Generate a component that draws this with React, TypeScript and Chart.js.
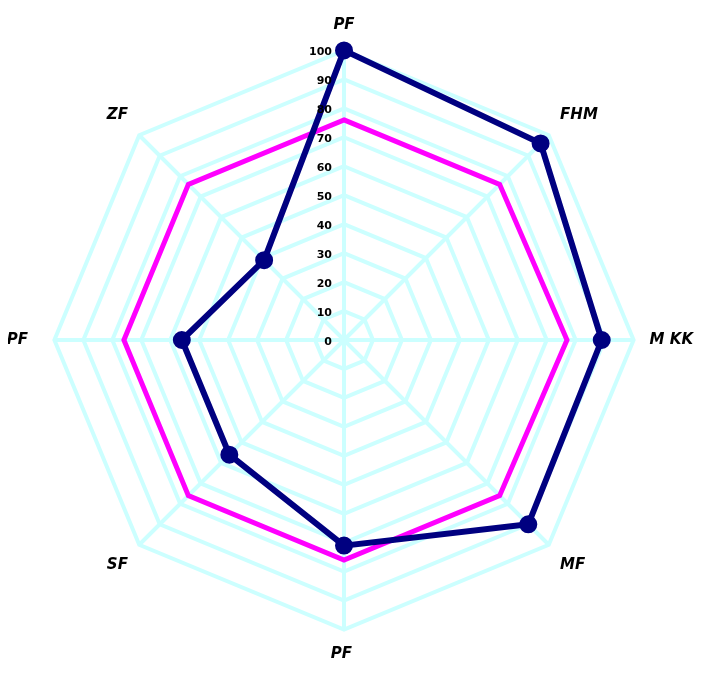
import React, { useEffect, useRef } from "react";
import { Chart, registerables } from "chart.js";

Chart.register(...registerables);

const categories = ["PF", "FHM", "M KK", "MF", "PF ", "SF", "PF  ", "ZF"];
const seriesA = [100, 96, 89, 90, 71, 56, 56, 39];
const seriesB = [76, 76, 77, 76, 76, 76, 76, 76];
const tickValues = [0, 10, 20, 30, 40, 50, 60, 70, 80, 90, 100];

const tickPlugin = {
  id: "leftTicks",
  afterDatasetsDraw(chart: any) {
    const scale = chart.scales.r;
    const ctx = chart.ctx;
    ctx.save();
    ctx.font = "bold 11px 'DejaVu Sans'";
    ctx.fillStyle = "#000";
    ctx.textAlign = "right";
    ctx.textBaseline = "middle";
    tickValues.forEach((v) => {
      const d = scale.getDistanceFromCenterForValue(v);
      ctx.fillText(String(v), scale.xCenter - 12, scale.yCenter - d + 2);
    });
    ctx.restore();
  },
};

export default function App() {
  const ref = useRef<HTMLCanvasElement>(null);
  useEffect(() => {
    if (!ref.current) return;
    const chart = new Chart(ref.current, {
      type: "radar",
      data: {
        labels: categories,
        datasets: [
          {
            data: seriesA,
            borderColor: "#000080",
            backgroundColor: "#000080",
            borderWidth: 6,
            pointRadius: 6,
            pointBackgroundColor: "#000080",
            pointBorderColor: "#000080",
            fill: false,
          },
          {
            data: seriesB,
            borderColor: "#ff00ff",
            backgroundColor: "#ff00ff",
            borderWidth: 5,
            pointRadius: 0,
            fill: false,
          },
        ],
      },
      options: {
        animation: false,
        responsive: true,
        maintainAspectRatio: false,
        plugins: { legend: { display: false }, tooltip: { enabled: false } },
        scales: {
          r: {
            min: 0,
            max: 100,
            ticks: { stepSize: 10, display: false },
            grid: { color: "#ccffff", lineWidth: 4, circular: false },
            angleLines: { color: "#ccffff", lineWidth: 4 },
            pointLabels: {
              color: "#000",
              font: { family: "'DejaVu Sans'", size: 15, weight: "bold", style: "italic" },
              padding: 16,
            },
          },
        },
      },
      plugins: [tickPlugin],
    });
    return () => chart.destroy();
  }, []);
  return (
    <div style={{ width: 686, height: 659, overflow: "hidden", position: "relative" }}>
      <div style={{ position: "absolute", left: -7, top: -11, width: 698, height: 686 }}>
        <canvas ref={ref} />
      </div>
    </div>
  );
}
